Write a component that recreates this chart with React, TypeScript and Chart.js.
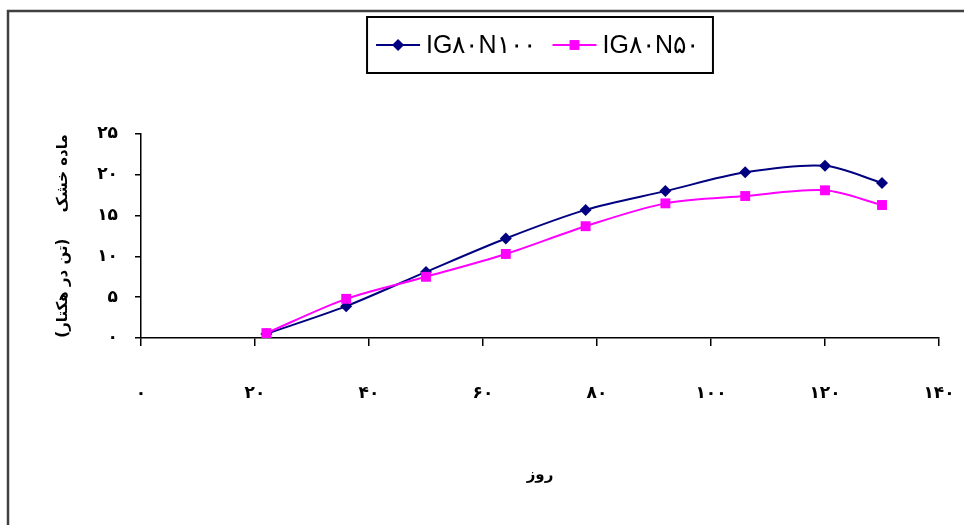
import React, { useEffect, useRef } from 'react';
import { Chart, registerables } from 'chart.js';

Chart.register(...registerables);

// ---- data ----
const days = [22, 36, 50, 64, 78, 92, 106, 120, 130];
const seriesN100 = [0.5, 3.9, 8.1, 12.2, 15.7, 18.0, 20.3, 21.1, 19.0];
const seriesN50 = [0.6, 4.8, 7.5, 10.3, 13.7, 16.5, 17.4, 18.1, 16.3];
const seriesNames = ['IG۸۰N۱۰۰', 'IG۸۰N۵۰'];
const xTickLabels = ['۰', '۲۰', '۴۰', '۶۰', '۸۰', '۱۰۰', '۱۲۰', '۱۴۰'];
const yTickLabels = ['۰', '۵', '۱۰', '۱۵', '۲۰', '۲۵'];
const xTitle = 'روز';
const yTitle = '\u200Fماده خشک     (تن در هکتار)\u200F';

// ---- layout ----
const W = 964;
const H = 525;
const PLOT_LEFT = 141;
const PLOT_TOP = 134;
const PLOT_BOTTOM = 338;
const PLOT_RIGHT_PAD = 25;

const tickFont = { family: '"DejaVu Sans", sans-serif', size: 17, weight: 'bold' as const };
const titleFont = { family: '"DejaVu Sans", sans-serif', size: 15, weight: 'bold' as const };

const framePlugin = {
  id: 'frame',
  beforeDraw(chart: any) {
    const ctx = chart.ctx;
    ctx.save();
    ctx.fillStyle = '#ffffff';
    ctx.fillRect(0, 0, chart.width, chart.height);
    ctx.strokeStyle = '#404040';
    ctx.lineWidth = 2.5;
    ctx.beginPath();
    ctx.moveTo(8, chart.height);
    ctx.lineTo(8, 11);
    ctx.lineTo(chart.width, 11);
    ctx.stroke();
    ctx.restore();
  },
};

const boxLegendPlugin = {
  id: 'boxLegend',
  afterDraw(chart: any) {
    const ctx = chart.ctx;
    const ds = chart.data.datasets;
    ctx.save();
    ctx.font = '25px "Liberation Sans", Arial, sans-serif';
    const lineLen = 44;
    const gapText = 6;
    const itemGap = 17;
    const padL = 9;
    const padR = 14;
    const widths = ds.map((d: any) => ctx.measureText(d.label).width);
    let total = padL + padR;
    widths.forEach((w: number, i: number) => {
      total += lineLen + gapText + w + (i < widths.length - 1 ? itemGap : 0);
    });
    const cx = (chart.chartArea.left + chart.chartArea.right) / 2;
    const boxLeft = cx - total / 2;
    const boxTop = 17;
    const boxH = 56;
    ctx.strokeStyle = '#000';
    ctx.lineWidth = 2;
    ctx.strokeRect(boxLeft, boxTop, total, boxH);
    const cy = boxTop + 28;
    let x = boxLeft + padL;
    ds.forEach((d: any, i: number) => {
      ctx.strokeStyle = d.borderColor;
      ctx.lineWidth = 2;
      ctx.beginPath();
      ctx.moveTo(x, cy);
      ctx.lineTo(x + lineLen, cy);
      ctx.stroke();
      const mx = x + lineLen / 2;
      ctx.fillStyle = d.backgroundColor;
      ctx.beginPath();
      if (d.pointStyle === 'rectRot') {
        const r = d.pointRadius;
        ctx.moveTo(mx - r, cy);
        ctx.lineTo(mx, cy - r);
        ctx.lineTo(mx + r, cy);
        ctx.lineTo(mx, cy + r);
        ctx.closePath();
      } else {
        const s = d.pointRadius * Math.SQRT1_2;
        ctx.rect(mx - s, cy - s, 2 * s, 2 * s);
      }
      ctx.fill();
      ctx.fillStyle = '#000';
      ctx.textBaseline = 'alphabetic';
      ctx.textAlign = 'left';
      ctx.fillText(d.label, x + lineLen + gapText, cy + 8);
      x += lineLen + gapText + widths[i] + itemGap;
    });
    ctx.restore();
  },
};

export default function App() {
  const ref = useRef<HTMLCanvasElement>(null);

  useEffect(() => {
    if (!ref.current) return;
    const chart = new Chart(ref.current, {
      type: 'line',
      data: {
        datasets: [
          {
            label: seriesNames[0],
            data: days.map((d, i) => ({ x: d, y: seriesN100[i] })),
            borderColor: '#000080',
            backgroundColor: '#000080',
            borderWidth: 2,
            pointStyle: 'rectRot',
            pointRadius: 6,
            pointBorderWidth: 0,
            tension: 0.3,
            order: 1,
          },
          {
            label: seriesNames[1],
            data: days.map((d, i) => ({ x: d, y: seriesN50[i] })),
            borderColor: '#FF00FF',
            backgroundColor: '#FF00FF',
            borderWidth: 2,
            pointStyle: 'rect',
            pointRadius: 7,
            pointBorderWidth: 0,
            tension: 0.3,
            order: 0,
          },
        ],
      },
      options: {
        animation: false,
        responsive: false,
        maintainAspectRatio: false,
        layout: { padding: { top: PLOT_TOP, right: PLOT_RIGHT_PAD, left: 0, bottom: 0 } },
        plugins: {
          legend: { display: false },
          tooltip: { enabled: false },
        },
        scales: {
          x: {
            type: 'linear',
            min: 0,
            max: 140,
            ticks: {
              stepSize: 20,
              padding: 37,
              color: '#000',
              font: tickFont,
              maxRotation: 0,
              callback: (_v: any, i: number) => xTickLabels[i],
            },
            grid: { drawOnChartArea: false, drawTicks: true, tickLength: 8, color: '#000', lineWidth: 1.5 },
            border: { color: '#000', width: 1.5 },
            title: {
              display: true,
              text: xTitle,
              color: '#000',
              font: titleFont,
              padding: { top: 0, bottom: 41 },
            },
            afterFit: (s: any) => {
              s.height = H - PLOT_BOTTOM;
              s.paddingLeft = 0;
              s.paddingRight = 0;
            },
          },
          y: {
            type: 'linear',
            min: 0,
            max: 25,
            ticks: {
              stepSize: 5,
              padding: 17,
              color: '#000',
              font: tickFont,
              callback: (_v: any, i: number) => yTickLabels[i],
            },
            grid: { drawOnChartArea: false, drawTicks: true, tickLength: 6, color: '#000', lineWidth: 1.5 },
            border: { color: '#000', width: 1.5 },
            title: {
              display: true,
              text: yTitle,
              color: '#000',
              font: titleFont,
              padding: { top: 54, bottom: 0 },
            },
            afterFit: (s: any) => {
              s.width = PLOT_LEFT;
              s.paddingTop = 0;
              s.paddingBottom = 0;
            },
          },
        },
      },
      plugins: [framePlugin, boxLegendPlugin],
    });
    return () => chart.destroy();
  }, []);

  return (
    <div style={{ position: 'fixed', left: 0, top: 0, width: W, height: H, background: '#fff' }}>
      <canvas ref={ref} width={W} height={H} style={{ display: 'block', width: W, height: H }} />
    </div>
  );
}
